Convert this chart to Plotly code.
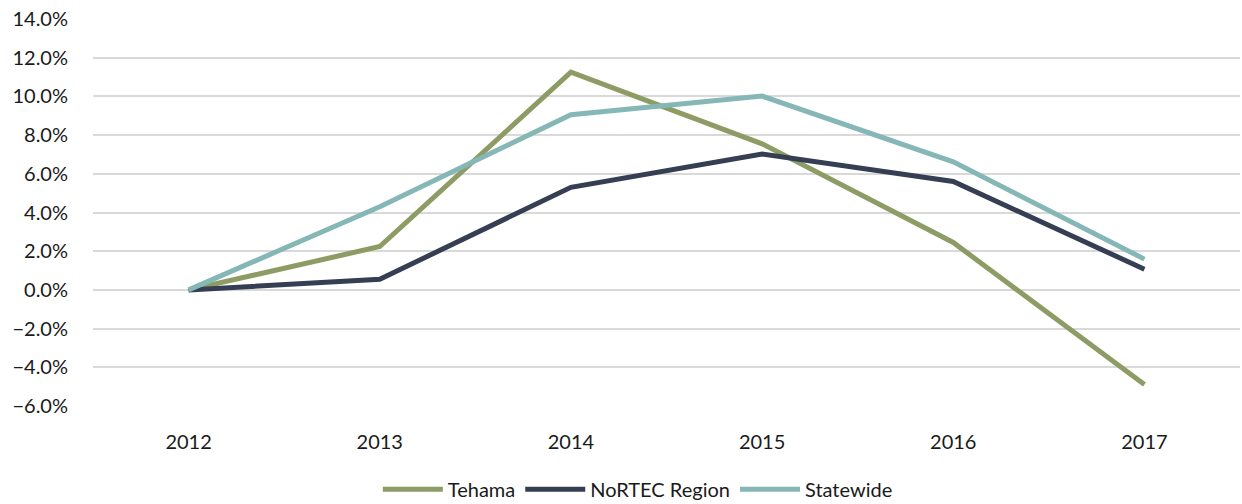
import plotly.graph_objects as go

years = ["2012", "2013", "2014", "2015", "2016", "2017"]
tehama = [0.0, 2.24, 11.25, 7.55, 2.45, -4.89]
nortec = [0.0, 0.55, 5.30, 7.02, 5.60, 1.07]
statewide = [0.0, 4.30, 9.05, 10.02, 6.62, 1.59]

series = [
    ("Tehama", tehama, "#8C9C64"),
    ("NoRTEC Region", nortec, "#353E52"),
    ("Statewide", statewide, "#84B7B5"),
]

fig = go.Figure()
for name, vals, color in series:
    fig.add_trace(go.Scatter(
        x=years, y=[v / 100 for v in vals], name=name, mode="lines",
        line=dict(color=color, width=5),
    ))

fig.update_layout(
    width=1242, height=504,
    margin=dict(l=93, r=2, t=19, b=98, autoexpand=False),
    paper_bgcolor="white", plot_bgcolor="white",
    font=dict(family="Lato, Carlito, Calibri, sans-serif", size=20, color="#1a1a1a"),
    showlegend=True,
    legend=dict(orientation="h", x=0.475, xanchor="center", y=-0.165, yanchor="top",
                font=dict(size=20), itemwidth=60, traceorder="normal"),
    xaxis=dict(showgrid=False, showline=False, ticks="outside", ticklen=18,
               tickcolor="white", range=[-0.5, 5.5], tickfont=dict(size=20),
               automargin=False, ticklabeloverflow="allow"),
    yaxis=dict(range=[-0.06, 0.14], dtick=0.02, tickformat=".1%",
               showgrid=True, gridcolor="#D9D9D9", gridwidth=1.5,
               zeroline=False, showline=False, ticks="outside", ticklen=20,
               tickcolor="white", tickfont=dict(size=20), automargin=False,
               ticklabeloverflow="allow"),
)

fig.write_html(
    "out.html",
    config={"displayModeBar": False},
    post_script="document.body.style.margin='0px';document.body.style.overflow='hidden';",
)
